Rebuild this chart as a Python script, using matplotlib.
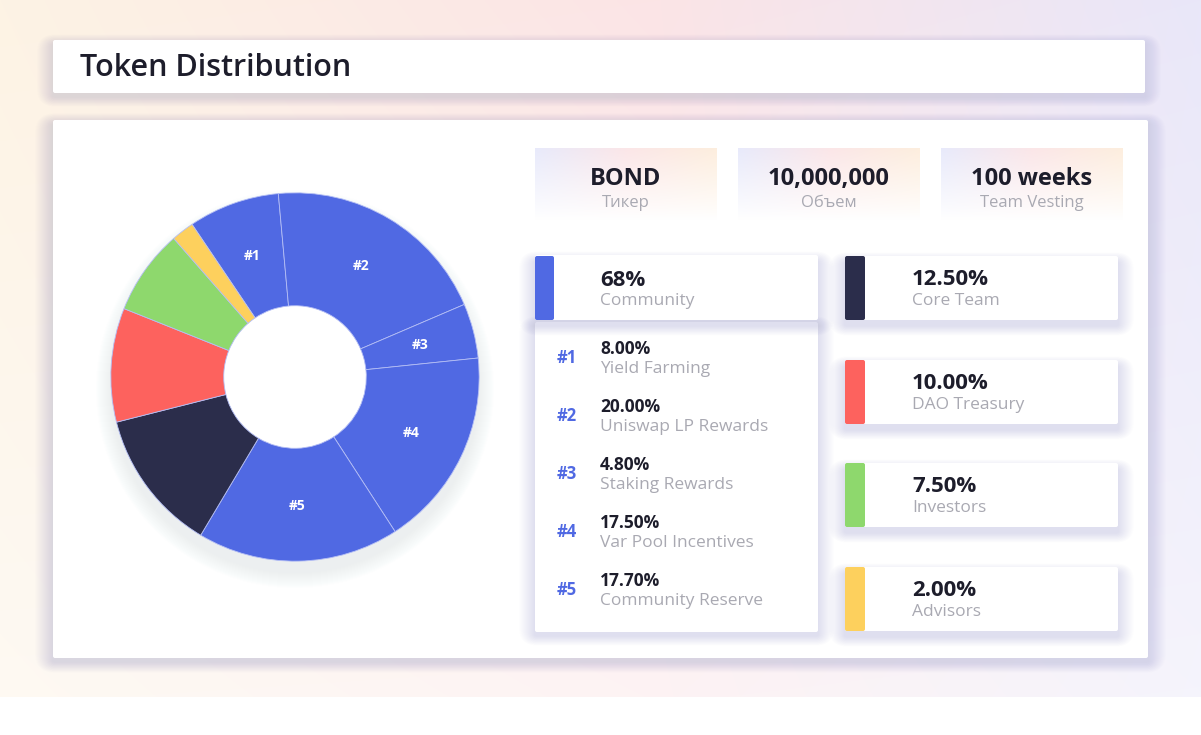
import numpy as np
import matplotlib
matplotlib.use("Agg")
import matplotlib.pyplot as plt
from matplotlib.patches import FancyBboxPatch, Circle

# ---- data ----
community_tags = ['#1', '#2', '#3', '#4', '#5']
community_names = ['Yield Farming', 'Uniswap LP Rewards', 'Staking Rewards',
                   'Var Pool Incentives', 'Community Reserve']
community_shares = [8.00, 20.00, 4.80, 17.50, 17.70]
other_names = ['Core Team', 'DAO Treasury', 'Investors', 'Advisors']
other_shares = [12.50, 10.00, 7.50, 2.00]
stat_values = ['BOND', '10,000,000', '100 weeks']
stat_labels = ['Тикер', 'Объем', 'Team Vesting']

BLUE = '#5069e3'
other_colors = ['#2b2d4b', '#fd625e', '#8ed86d', '#fdd05d']
DARK = '#1d1d2b'
GREY = '#a9a9b2'
plt.rcParams['font.family'] = ['Open Sans', 'DejaVu Sans']

W, H = 1201, 735
fig = plt.figure(figsize=(W / 100, H / 100), dpi=100)
bg = fig.add_axes([0, 0, 1, 1])
bg.axis('off')

# background gradient: peach -> pink -> lavender, fading down
xs = np.linspace(0, 1, W)
stops_c = np.array([[253, 243, 228], [251, 228, 230], [233, 231, 249]]) / 255
row = np.stack([np.interp(xs, [0, 0.55, 1], stops_c[:, k]) for k in range(3)], axis=1)
ys = np.arange(H)
fade = np.where(ys < 697, 1 - 0.55 * ys / 697, 0.0)
img = 1 - (1 - row[None, :, :]) * fade[:, None, None]
bg.imshow(img, extent=(0, W, H, 0), aspect='auto', zorder=0)


def card(x0, y0, x1, y1, r=3, spread=18, dy=4, alpha=0.006, z=1):
    # soft drop shadow made of stacked translucent boxes, then the white card
    for k in range(spread, 0, -1):
        bg.add_patch(FancyBboxPatch((x0 - k, y0 - k * 0.6 + dy), x1 - x0 + 2 * k,
                                    y1 - y0 + k * 1.2, boxstyle=f"round,pad=0,rounding_size={r + k}",
                                    fc='#5a5a80', ec='none', alpha=alpha, zorder=z))
    bg.add_patch(FancyBboxPatch((x0, y0), x1 - x0, y1 - y0,
                                boxstyle=f"round,pad=0,rounding_size={r}",
                                fc='white', ec='none', zorder=z + 0.5))


# title card
card(53, 40, 1145, 93, r=2, spread=16, alpha=0.007)
bg.text(80, 68, 'Token Distribution', fontsize=22, fontweight='semibold',
        color=DARK, va='center', ha='left', zorder=5)

# main card
card(53, 120, 1148, 658, r=2, spread=18, alpha=0.006)

# donut shadow
for k in range(16, 0, -1):
    bg.add_patch(Circle((295, 389), 183 + k, fc='#a4acf0', ec='none', alpha=0.011, zorder=2))

# stat cards with soft gradient
sx = np.linspace(0, 1, 200)
sc = np.array([[232, 234, 251], [251, 230, 232], [253, 238, 222]]) / 255
srow = np.stack([np.interp(sx, [0, 0.5, 1], sc[:, k]) for k in range(3)], axis=1)
sy = np.linspace(0, 1, 80)
sfade = np.clip(1 - sy / 0.9, 0, 1) ** 0.9
simg = 1 - (1 - srow[None, :, :]) * sfade[:, None, None]
for i, (val, lab) in enumerate(zip(stat_values, stat_labels)):
    x0 = 535 + i * 203
    x1 = x0 + 182
    bg.imshow(simg, extent=(x0, x1, 228, 148), aspect='auto', zorder=3)
    mid = (x0 + x1) / 2
    bg.text(mid, 179, val, fontsize=17, fontweight='bold', color=DARK,
            ha='center', va='center', zorder=5)
    bg.text(mid, 203, lab, fontsize=12, color=GREY, ha='center', va='center', zorder=5)

# left list card
card(535, 322, 818, 632, r=2, spread=16, alpha=0.007, z=3)
card(535, 255, 818, 320, r=2, spread=16, dy=6, alpha=0.009, z=4)
bg.add_patch(FancyBboxPatch((535, 256), 19, 64, boxstyle="round,pad=0,rounding_size=2",
                            fc=BLUE, ec='none', zorder=6))
bg.text(600, 280, f"{sum(community_shares):.0f}%", fontsize=16, fontweight='bold',
        color=DARK, va='center', zorder=6)
bg.text(600, 301, 'Community', fontsize=12.5, color=GREY, va='center', zorder=6)
for i, (tag, name, share) in enumerate(zip(community_tags, community_names, community_shares)):
    y = 349 + 58 * i
    bg.text(567, y + 9, tag, fontsize=12, fontweight='bold', color=BLUE,
            ha='center', va='center', zorder=6)
    bg.text(600, y, f"{share:.2f}%", fontsize=12.5, fontweight='bold', color=DARK,
            va='center', zorder=6)
    bg.text(600, y + 20, name, fontsize=12.5, color=GREY, va='center', zorder=6)

# right cards
tops = [256, 360, 463, 567]
for top, name, share, col in zip(tops, other_names, other_shares, other_colors):
    card(845, top, 1118, top + 64, r=2, spread=16, dy=6, alpha=0.008, z=3)
    bg.add_patch(FancyBboxPatch((845, top), 20, 64, boxstyle="round,pad=0,rounding_size=2",
                                fc=col, ec='none', zorder=6))
    bg.text(912, top + 23, f"{share:.2f}%", fontsize=16, fontweight='bold', color=DARK,
            va='center', zorder=6)
    bg.text(912, top + 45, name, fontsize=12.5, color=GREY, va='center', zorder=6)

bg.set_xlim(0, W)
bg.set_ylim(H, 0)

# donut
R = 186
cx, cy = 295, 377
ax = fig.add_axes([(cx - R) / W, (H - cy - R) / H, 2 * R / W, 2 * R / H])
shares = community_shares + other_shares
colors = [BLUE] * len(community_shares) + other_colors
hole = 72 / R
ax.add_patch(Circle((0, 0), hole, fc='white', ec='none', zorder=0))
wedges, _ = ax.pie(shares, colors=colors, startangle=124, counterclock=False, radius=1,
                   wedgeprops=dict(width=1 - hole, edgecolor='#b4bef5', linewidth=0.6))
for w, tag in zip(wedges, community_tags):
    ang = np.deg2rad((w.theta1 + w.theta2) / 2)
    ax.text(0.70 * np.cos(ang), 0.70 * np.sin(ang), tag, fontsize=10, fontweight='bold',
            color='white', ha='center', va='center')
ax.set_xlim(-1.01, 1.01)
ax.set_ylim(-1.01, 1.01)
ax.axis('off')

fig.savefig('out.png', dpi=100)
